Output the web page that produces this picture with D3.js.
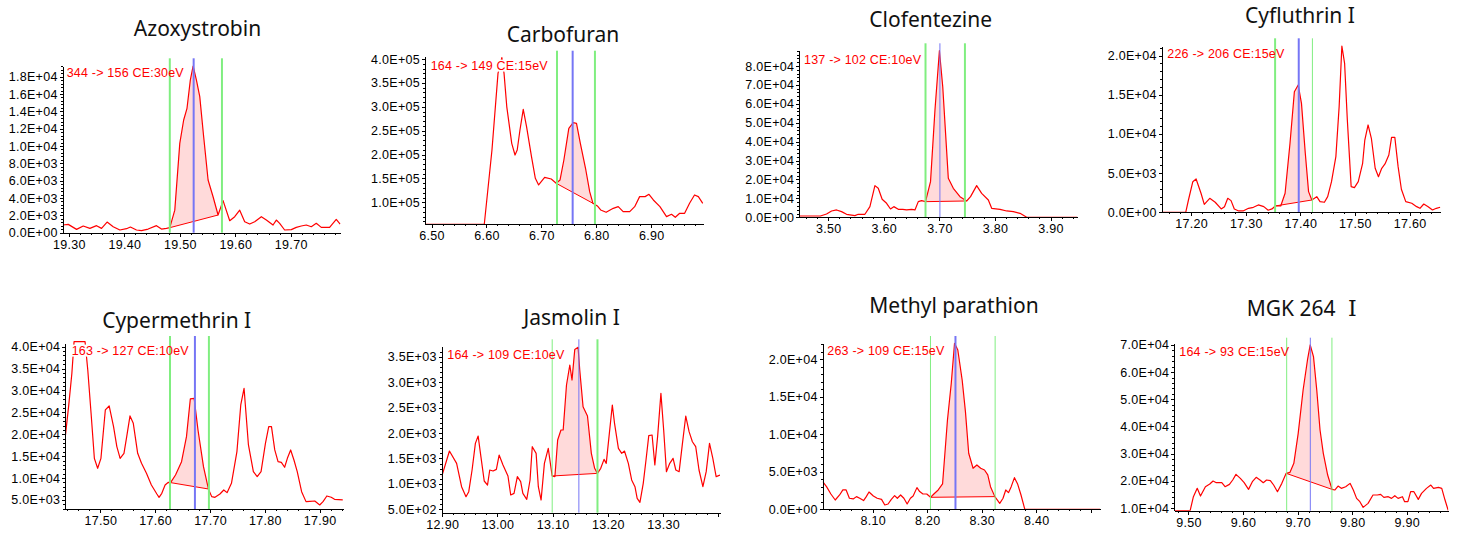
<!DOCTYPE html>
<html lang="en">
<head>
<meta charset="utf-8">
<title>MRM chromatograms</title>
<script src="https://d3js.org/d3.v7.min.js"></script>
<style>
	body{margin:0;background:#fff;}
	.axis path,.axis line{stroke:#000;shape-rendering:crispEdges;}
	.axis path{stroke-width:1.3px;}
	.axis text{font-family:"Liberation Sans",Arial,sans-serif;font-size:12.5px;letter-spacing:0.3px;fill:#000;}
	.title{font-family:"Noto Sans","Noto Sans CJK JP",sans-serif;font-size:21px;fill:#111;text-anchor:middle;}
	.roman{font-family:"DejaVu Serif","Liberation Serif",serif;font-size:22px;}
	.mrm{font-family:"Liberation Sans",Arial,sans-serif;font-size:12.5px;letter-spacing:0.2px;fill:#f00;}
</style>
</head>
<body>
<svg id="chart"></svg>
<script>
// ---------- data ----------
var compounds=["Azoxystrobin","Carbofuran","Clofentezine","Cyfluthrin I","Cypermethrin I","Jasmolin I","Methyl parathion","MGK 264 \u2160"];
var transitions=["344 -> 156 CE:30eV","164 -> 149 CE:15eV","137 -> 102 CE:10eV","226 -> 206 CE:15eV","163 -> 127 CE:10eV","164 -> 109 CE:10eV","263 -> 109 CE:15eV","164 -> 93 CE:15eV"];

// retention time window shown and intensity window shown
var xDomains=[[19.289,19.790],[6.488,6.995],[3.448,3.948],[17.146,17.657],[17.436,17.943],[12.899,13.403],[8.008,8.517],[9.474,9.976]];
var yDomains=[[0,19230],[53940,404950],[0,88100],[0,21234],[2869,40769],[434,3696],[0,22133],[9018,70613]];

var xTicks=[
	[19.3,19.4,19.5,19.6,19.7],
	[6.5,6.6,6.7,6.8,6.9],
	[3.5,3.6,3.7,3.8,3.9],
	[17.2,17.3,17.4,17.5,17.6],
	[17.5,17.6,17.7,17.8,17.9],
	[12.9,13.0,13.1,13.2,13.3],
	[8.1,8.2,8.3,8.4],
	[9.5,9.6,9.7,9.8,9.9]
];
var yTicks=[
	[0,2000,4000,6000,8000,10000,12000,14000,16000,18000],
	[100000,150000,200000,250000,300000,350000,400000],
	[0,10000,20000,30000,40000,50000,60000,70000,80000],
	[0,5000,10000,15000,20000],
	[5000,10000,15000,20000,25000,30000,35000,40000],
	[500,1000,1500,2000,2500,3000,3500],
	[0,5000,10000,15000,20000],
	[10000,20000,30000,40000,50000,60000,70000]
];

// [window start, apex, window end] (green, blue, green)
var markers=[
	[19.482,19.525,19.576],
	[6.7285,6.757,6.7976],
	[3.675,3.7009,3.7459],
	[17.3537,17.397,17.422],
	[17.6269,17.6724,17.6979],
	[13.0991,13.1474,13.1811],
	[8.2058,8.2517,8.3245],
	[9.6799,9.7232,9.7628]
];
// integrated part of the peak (baseline drawn between these two points)
var peakRanges=[[19.482,19.569],[6.727,6.794],[3.675,3.749],[17.354,17.421],[17.628,17.697],[13.099,13.181],[8.206,8.324],[9.679,9.763]];

var azoxystrobin=[[19.289,885],[19.299,960],[19.314,385],[19.326,770],[19.338,500],[19.350,810],[19.359,500],[19.369,1230],[19.380,690],[19.392,310],[19.404,460],[19.411,650],[19.422,310],[19.431,230],[19.443,420],[19.458,810],[19.467,420],[19.476,500],[19.482,580],[19.491,2600],[19.500,10300],[19.507,13000],[19.513,14350],[19.519,17600],[19.524,19230],[19.530,17600],[19.536,15700],[19.543,11100],[19.551,6080],[19.560,4150],[19.569,2040],[19.578,3700],[19.590,1380],[19.599,1850],[19.608,2600],[19.617,1270],[19.626,1000],[19.635,1270],[19.647,1850],[19.656,1460],[19.668,885],[19.674,1460],[19.680,1080],[19.689,310],[19.701,350],[19.710,615],[19.719,770],[19.728,885],[19.737,690],[19.746,1080],[19.755,615],[19.770,615],[19.782,1540],[19.789,1000]];
var carbofuran=[[6.488,54000],[6.596,54000],[6.610,209600],[6.621,370000],[6.628,403000],[6.632,370000],[6.637,300000],[6.646,223500],[6.652,199000],[6.656,209600],[6.661,251400],[6.667,294700],[6.673,258400],[6.682,195600],[6.689,150200],[6.695,136300],[6.706,152300],[6.718,148800],[6.727,139800],[6.734,146800],[6.741,188600],[6.750,254900],[6.758,266800],[6.764,265400],[6.771,223500],[6.781,167700],[6.788,122300],[6.794,97900],[6.802,92300],[6.808,84000],[6.818,79100],[6.831,87400],[6.840,90900],[6.849,80500],[6.861,80500],[6.870,90900],[6.879,111900],[6.889,111900],[6.896,116700],[6.904,104900],[6.916,90900],[6.928,70000],[6.937,74900],[6.944,68600],[6.952,77000],[6.961,77000],[6.970,97900],[6.979,115400],[6.986,111900],[6.994,97900]];
var clofentezine=[[3.448,700],[3.462,700],[3.486,700],[3.497,1760],[3.506,3350],[3.515,3880],[3.524,3000],[3.533,1590],[3.548,880],[3.554,1590],[3.566,1590],[3.575,5640],[3.584,16740],[3.590,15330],[3.597,9520],[3.605,7400],[3.612,4400],[3.618,5640],[3.626,4230],[3.634,4230],[3.641,3880],[3.650,4230],[3.656,3880],[3.662,8280],[3.668,8810],[3.675,8280],[3.684,18850],[3.692,56740],[3.700,88100],[3.706,69070],[3.716,20620],[3.725,15330],[3.737,10930],[3.749,8630],[3.756,10930],[3.767,16740],[3.776,12690],[3.788,9160],[3.794,4760],[3.809,4230],[3.821,3350],[3.833,3000],[3.845,2110],[3.857,0],[3.869,0],[3.948,0]];
var cyfluthrin=[[17.146,0],[17.190,0],[17.195,1570],[17.203,3910],[17.209,4260],[17.218,2430],[17.224,1020],[17.234,1790],[17.244,1280],[17.255,430],[17.261,720],[17.267,1790],[17.273,1490],[17.279,430],[17.287,170],[17.295,170],[17.305,510],[17.314,640],[17.323,940],[17.333,720],[17.341,260],[17.348,430],[17.354,810],[17.364,810],[17.372,2430],[17.381,8810],[17.389,15400],[17.396,16260],[17.402,13910],[17.409,7530],[17.415,2640],[17.421,1570],[17.430,2000],[17.436,1360],[17.444,1280],[17.450,2000],[17.457,3910],[17.465,7110],[17.471,13490],[17.476,21230],[17.481,19020],[17.486,11790],[17.493,3280],[17.499,3150],[17.506,3910],[17.514,6260],[17.518,9230],[17.524,11150],[17.530,9450],[17.537,5620],[17.543,4550],[17.549,5620],[17.555,6170],[17.562,7320],[17.567,9570],[17.573,9570],[17.579,5830],[17.585,2940],[17.593,1360],[17.604,1150],[17.613,720],[17.619,510],[17.626,1060],[17.634,720],[17.642,300],[17.649,510],[17.656,640]];
var cypermethrin=[[17.436,19460],[17.442,26310],[17.448,33920],[17.452,41150],[17.472,41150],[17.477,34680],[17.483,24790],[17.489,14510],[17.495,12230],[17.501,14510],[17.509,25550],[17.516,26460],[17.524,21740],[17.530,17180],[17.536,14510],[17.543,15650],[17.548,19460],[17.554,24180],[17.560,22500],[17.568,15650],[17.575,13370],[17.584,11090],[17.593,8420],[17.603,6370],[17.607,5610],[17.612,6520],[17.618,8420],[17.624,9030],[17.628,8960],[17.637,10710],[17.648,13750],[17.657,19460],[17.664,28060],[17.671,28210],[17.678,20980],[17.688,12610],[17.697,7510],[17.703,5760],[17.709,5610],[17.718,6370],[17.725,7280],[17.731,6670],[17.739,8810],[17.749,16040],[17.756,26690],[17.762,30490],[17.770,17560],[17.779,11470],[17.786,10330],[17.793,11470],[17.801,17940],[17.807,21740],[17.812,21740],[17.818,16420],[17.824,13750],[17.830,13600],[17.836,12460],[17.841,14510],[17.847,16420],[17.853,14130],[17.859,11470],[17.867,6900],[17.875,4620],[17.882,4700],[17.891,4770],[17.900,3860],[17.906,4620],[17.913,5910],[17.921,5610],[17.927,5150],[17.942,5000]];
var jasmolin=[[12.899,1142],[12.913,1646],[12.926,1404],[12.935,945],[12.943,749],[12.948,847],[12.954,1273],[12.960,1797],[12.965,1941],[12.970,1535],[12.976,1057],[12.982,978],[12.986,1273],[12.992,1253],[12.998,1286],[13.003,1567],[13.010,1371],[13.019,1155],[13.024,782],[13.030,814],[13.036,1142],[13.042,1044],[13.046,814],[13.053,696],[13.059,1077],[13.063,1731],[13.070,1600],[13.074,945],[13.079,683],[13.085,1404],[13.092,1698],[13.099,1155],[13.104,1142],[13.109,1862],[13.115,2059],[13.119,2059],[13.125,2943],[13.131,3336],[13.135,3041],[13.140,3643],[13.146,3683],[13.149,3238],[13.155,2517],[13.163,2334],[13.170,1600],[13.176,1306],[13.181,1207],[13.187,1306],[13.193,1482],[13.197,1404],[13.202,1928],[13.208,2550],[13.212,2190],[13.219,1698],[13.225,1600],[13.230,1646],[13.237,1404],[13.243,1077],[13.249,945],[13.253,716],[13.258,638],[13.264,1011],[13.269,1469],[13.274,1948],[13.280,1961],[13.285,1371],[13.290,1928],[13.296,2779],[13.301,2059],[13.306,1240],[13.312,1404],[13.318,1502],[13.323,1273],[13.329,1240],[13.335,1797],[13.341,2334],[13.347,2026],[13.353,1829],[13.359,1731],[13.365,1273],[13.372,945],[13.378,1240],[13.384,1797],[13.390,1502],[13.396,1142],[13.403,1175]];
var methylParathion=[[8.008,3690],[8.015,3020],[8.023,2040],[8.031,1240],[8.039,1910],[8.045,2580],[8.051,2580],[8.057,1470],[8.064,1380],[8.070,1690],[8.076,1470],[8.083,1160],[8.088,1690],[8.093,2310],[8.101,1780],[8.108,1470],[8.116,1330],[8.122,580],[8.128,710],[8.134,1330],[8.140,1820],[8.145,1470],[8.151,1910],[8.157,1470],[8.163,710],[8.169,1470],[8.174,1780],[8.181,2890],[8.186,2360],[8.192,2040],[8.199,2040],[8.206,1600],[8.212,2040],[8.220,2580],[8.228,3380],[8.237,11910],[8.244,16800],[8.250,22130],[8.256,21240],[8.264,17240],[8.270,13020],[8.276,7470],[8.284,5470],[8.291,5910],[8.298,5470],[8.305,5240],[8.311,4580],[8.316,3020],[8.324,1690],[8.333,800],[8.339,1470],[8.344,2580],[8.349,2220],[8.354,3020],[8.360,4220],[8.366,3330],[8.372,1910],[8.379,0],[8.517,0]];
var mgk264=[[9.474,9020],[9.503,9020],[9.509,14170],[9.516,17240],[9.522,14420],[9.531,17850],[9.539,18830],[9.545,19940],[9.551,19330],[9.561,19330],[9.567,17850],[9.575,18710],[9.581,20310],[9.587,22390],[9.595,20920],[9.602,19330],[9.610,16870],[9.617,19690],[9.624,21290],[9.631,20310],[9.637,19330],[9.643,20310],[9.650,20060],[9.656,18470],[9.663,16010],[9.671,19080],[9.679,22760],[9.686,23130],[9.693,26440],[9.701,37480],[9.710,53440],[9.718,64480],[9.723,70000],[9.729,65700],[9.735,53440],[9.741,38710],[9.747,30120],[9.755,22150],[9.763,16870],[9.768,16630],[9.774,18100],[9.780,17240],[9.788,17850],[9.796,19080],[9.802,16630],[9.808,13560],[9.814,12330],[9.820,10250],[9.829,11720],[9.838,14790],[9.846,14790],[9.852,15030],[9.858,13930],[9.866,14170],[9.872,13560],[9.878,14540],[9.884,13560],[9.892,14170],[9.896,12330],[9.902,12330],[9.907,16010],[9.913,16010],[9.921,13190],[9.927,15400],[9.936,17240],[9.944,18470],[9.949,17240],[9.958,17610],[9.964,17240],[9.970,12940],[9.976,9020]];
var traces=[azoxystrobin,carbofuran,clofentezine,cyfluthrin,cypermethrin,jasmolin,methylParathion,mgk264];

// ---------- layout (pixels) ----------
// l,r,t,b = axis ends, tx,ty = title, lx,ly = transition label, mt = top of marker lines
var frames=[
	{l:62.7,r:340.7,t:66,b:232.7,tx:197.5,ty:36,lx:66.7,ly:77,mt:58.3},
	{l:425,r:703.3,t:56.7,b:224.3,tx:563,ty:41.7,lx:430.7,ly:69.6,mt:50.7},
	{l:799.3,r:1077.3,t:50.7,b:217.3,tx:930.7,ty:27.3,lx:804,ly:63.6,mt:43.3},
	{l:1161.7,r:1440.7,t:46,b:212.3,tx:1300,ty:22.7,lx:1167.3,ly:57.6,mt:38.3},
	{l:65.3,r:343.3,t:343.3,b:509.3,tx:176.7,ty:327.7,lx:71.7,ly:354.6,mt:336},
	{l:441.7,r:720,t:346.7,b:512.7,tx:571.7,ty:325,lx:447.3,ly:358.6,mt:339.3},
	{l:822.7,r:1100,t:343.3,b:509.3,tx:954,ty:313.3,lx:827.3,ly:354.6,mt:336},
	{l:1174.3,r:1448.3,t:343.3,b:510.7,tx:1301.7,ty:316,lx:1179.3,ly:356.3,mt:337.7}
];
var markerWidths=[[2,2,2],[2,2,2],[2,1,2],[2,2,1],[2,2,2],[1,1,2],[1,2,1],[1,1,1]];
var markerColors=["#80ee80","#7676f5","#80ee80"];

var svg=d3.select("#chart").attr("width",1463).attr("height",535);

var sci=function(v){
	if(v===0){return "0.0E+00";}
	var e=Math.floor(Math.log10(Math.abs(v))+1e-9);
	var m=v/Math.pow(10,e);
	return m.toFixed(1)+"E"+(e<0?"-":"+")+String(Math.abs(e)).padStart(2,"0");
};

compounds.forEach(function(name,i){
	var f=frames[i];
	var data=traces[i];
	var xScale=d3.scaleLinear().domain(xDomains[i]).range([f.l,f.r]);
	var yScale=d3.scaleLinear().domain(yDomains[i]).range([f.b,f.t]);
	var line=d3.line().x(d=>xScale(d[0])).y(d=>yScale(d[1]));
	var g=svg.append("g");

	g.append("clipPath").attr("id","clip"+i)
		.append("rect")
		.attr("x",f.l).attr("y",f.t-20)
		.attr("width",f.r-f.l).attr("height",f.b-f.t+20);

	// integrated peak
	var pr=peakRanges[i];
	var peak=data.filter(d=>d[0]>=pr[0]-1e-9&&d[0]<=pr[1]+1e-9);
	var first=peak[0], last=peak[peak.length-1];
	g.append("path")
		.attr("d",line(peak)+"Z")
		.attr("fill","#ffdada")
		.attr("stroke","none");
	g.append("line")
		.attr("x1",xScale(first[0])).attr("y1",yScale(first[1]))
		.attr("x2",xScale(last[0])).attr("y2",yScale(last[1]))
		.attr("stroke","#f00").attr("stroke-width",1);

	// trace
	g.append("path")
		.datum(data)
		.attr("d",line)
		.attr("fill","none")
		.attr("stroke","#f00")
		.attr("stroke-width",1.2)
		.attr("stroke-linejoin","round")
		.attr("clip-path","url(#clip"+i+")");

	// transition label with white box behind it
	var bg=g.append("rect").attr("fill","#fff");
	var lab=g.append("text")
		.attr("class","mrm")
		.attr("x",f.lx).attr("y",f.ly)
		.text(transitions[i]);
	var bb=lab.node().getBBox();
	bg.attr("x",bb.x-1).attr("y",bb.y+1).attr("width",bb.width+1).attr("height",bb.height-2);

	// window / apex marks
	markers[i].forEach(function(t,k){
		g.insert("line","text.mrm")
			.attr("x1",xScale(t)).attr("x2",xScale(t))
			.attr("y1",f.mt).attr("y2",f.b)
			.attr("stroke",markerColors[k])
			.attr("stroke-width",markerWidths[i][k]);
	});

	// y axis
	var yStep=(yTicks[i][1]-yTicks[i][0])/5;
	var yMinor=d3.range(Math.ceil(yDomains[i][0]/yStep)*yStep,yDomains[i][1],yStep);
	g.append("g").attr("class","axis")
		.attr("transform","translate("+f.l+",0)")
		.call(d3.axisLeft(yScale).tickValues(yMinor).tickSize(2).tickSizeOuter(0).tickFormat(""));
	g.append("g").attr("class","axis")
		.attr("transform","translate("+f.l+",0)")
		.call(d3.axisLeft(yScale).tickValues(yTicks[i]).tickSize(3).tickSizeOuter(0).tickPadding(2).tickFormat(sci));

	// x axis
	var xMinor=d3.range(Math.ceil(xDomains[i][0]/0.02-1e-6),Math.floor(xDomains[i][1]/0.02+1e-6)+1).map(k=>k*0.02);
	var xMajor=d3.range(Math.ceil(xDomains[i][0]/0.1-1e-6),Math.floor(xDomains[i][1]/0.1+1e-6)+1).map(k=>k*0.1);
	g.append("g").attr("class","axis")
		.attr("transform","translate(0,"+f.b+")")
		.call(d3.axisBottom(xScale).tickValues(xMinor).tickSize(2).tickSizeOuter(0).tickFormat(""));
	g.append("g").attr("class","axis")
		.attr("transform","translate(0,"+f.b+")")
		.call(d3.axisBottom(xScale).tickValues(xMajor).tickSize(4).tickSizeOuter(0).tickPadding(3)
			.tickFormat(function(d){
				var shown=xTicks[i].some(v=>Math.abs(v-d)<1e-6);
				return shown?d.toFixed(2):"";
			}));

	// title (the roman numeral gets a serif face and a wider gap, as in the picture)
	var title=g.append("text")
		.attr("class","title")
		.attr("x",f.tx).attr("y",f.ty);
	var parts=name.split("\u2160");
	title.append("tspan").text(parts[0]);
	if(parts.length>1){
		title.append("tspan").attr("class","roman").attr("dx",7).text("\u2160");
	}
});
</script>
</body>
</html>
